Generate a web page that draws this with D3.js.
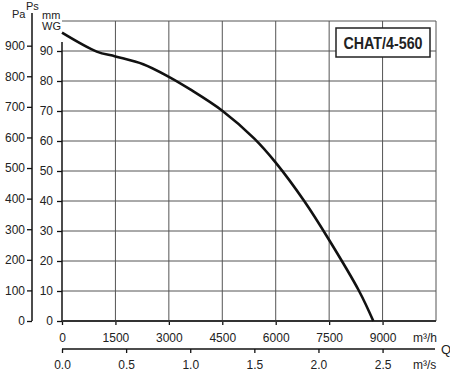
<!DOCTYPE html>
<html>
<head>
<meta charset="utf-8">
<script src="https://cdn.jsdelivr.net/npm/d3@7"></script>
<style>
  body { margin: 0; background: #fff; }
  text { font-family: "Liberation Sans", Arial, sans-serif; fill: #222; }
</style>
</head>
<body>
<script>
// curve: flow in m3/h, static pressure in mm WG
var flow = [0, 975, 1500, 2280, 3000, 3600, 4500, 5400, 6000, 6800, 7500, 8340, 8740]
var pressure = [96.1, 89.8, 88.2, 85.6, 81.4, 77.2, 70.1, 60.8, 52.8, 40.0, 27.0, 10.0, 0]

var flowTicks = [0, 1500, 3000, 4500, 6000, 7500, 9000]
var flowSecTicks = [0, 0.5, 1.0, 1.5, 2.0, 2.5]
var mmTicks = [0, 10, 20, 30, 40, 50, 60, 70, 80, 90]
var paTicks = [0, 100, 200, 300, 400, 500, 600, 700, 800, 900]
var modelName = 'CHAT/4-560'

var W = 450, H = 372
var gridColor = '#555'
var lineColor = '#111'

var svg = d3.select('body').append('svg')
    .attr('width', W)
    .attr('height', H)

var x = d3.scaleLinear().domain([0, 10500]).range([62, 436])
var xSec = d3.scaleLinear().domain([0, 10500 / 3600]).range([62, 436])
var y = d3.scaleLinear().domain([0, 100]).range([321, 21])
var yPa = d3.scaleLinear().domain([0, 100 * 9.80665]).range([321, 21])

// grid
var grid = svg.append('g')
grid.selectAll('line.v')
    .data(flowTicks.slice(1).concat([10500]))
    .enter().append('line')
    .attr('x1', d => x(d)).attr('x2', d => x(d))
    .attr('y1', y(0)).attr('y2', y(100))
    .attr('stroke', gridColor)
    .attr('stroke-width', 1)
grid.selectAll('line.h')
    .data(mmTicks.slice(1).concat([100]))
    .enter().append('line')
    .attr('x1', x(0)).attr('x2', x(10500))
    .attr('y1', d => y(d)).attr('y2', d => y(d))
    .attr('stroke', gridColor)
    .attr('stroke-width', 1)

// axes
function styleAxis(g) {
    g.select('.domain').remove()
    g.selectAll('line').attr('stroke', lineColor).attr('stroke-width', 1.3)
    g.selectAll('text').style('font-size', '12px').attr('fill', '#222')
        .attr('font-family', '"Liberation Sans", Arial, sans-serif')
}

svg.append('g')
    .attr('transform', 'translate(32,0)')
    .call(d3.axisLeft(yPa).tickValues(paTicks).tickSize(5).tickPadding(2))
    .call(styleAxis)
svg.append('line')
    .attr('x1', 32).attr('x2', 32)
    .attr('y1', 13).attr('y2', yPa(0))
    .attr('stroke', lineColor).attr('stroke-width', 1.5)

svg.append('g')
    .attr('transform', 'translate(62,0)')
    .call(d3.axisLeft(y).tickValues(mmTicks).tickSize(5).tickPadding(4))
    .call(styleAxis)
svg.append('line')
    .attr('x1', 62).attr('x2', 62)
    .attr('y1', 42).attr('y2', y(0))
    .attr('stroke', lineColor).attr('stroke-width', 1.5)

svg.append('g')
    .attr('transform', 'translate(0,321)')
    .call(d3.axisBottom(x).tickValues(flowTicks).tickSize(4).tickPadding(8)
        .tickFormat(d3.format('d')))
    .call(styleAxis)
svg.append('line')
    .attr('x1', x(0)).attr('x2', x(10500))
    .attr('y1', 321).attr('y2', 321)
    .attr('stroke', '#333').attr('stroke-width', 2)

svg.append('g')
    .attr('transform', 'translate(0,349)')
    .call(d3.axisBottom(xSec).tickValues(flowSecTicks).tickSize(4).tickPadding(7)
        .tickFormat(d3.format('.1f')))
    .call(styleAxis)
svg.append('line')
    .attr('x1', x(0)).attr('x2', 435)
    .attr('y1', 349).attr('y2', 349)
    .attr('stroke', lineColor).attr('stroke-width', 1.3)

// unit labels
function label(tx, ty, s, size) {
    return svg.append('text')
        .attr('x', tx).attr('y', ty)
        .style('font-size', (size || 12) + 'px')
        .text(s)
}
label(12, 18, 'Pa', 11)
label(26, 10, 'Ps', 11)
label(42, 19, 'mm', 11)
label(42, 30, 'WG', 11)
label(413, 341.5, 'm³/h')
label(413, 368.5, 'm³/s')
label(441, 354, 'Q', 13)

// curve
var line = d3.line()
    .x((d, i) => x(flow[i]))
    .y(d => y(d))
    .curve(d3.curveCatmullRom.alpha(0.5))
svg.append('path')
    .datum(pressure)
    .attr('d', line)
    .attr('fill', 'none')
    .attr('stroke', '#111')
    .attr('stroke-width', 2.6)

// model box
svg.append('rect')
    .attr('x', 336).attr('y', 28)
    .attr('width', 94).attr('height', 29)
    .attr('fill', '#fff')
    .attr('stroke', '#222')
    .attr('stroke-width', 1.5)
svg.append('text')
    .attr('x', 383).attr('y', 48.5)
    .attr('text-anchor', 'middle')
    .attr('font-weight', 'bold')
    .attr('textLength', 79)
    .attr('lengthAdjust', 'spacingAndGlyphs')
    .style('font-size', '16px')
    .text(modelName)
</script>
</body>
</html>
